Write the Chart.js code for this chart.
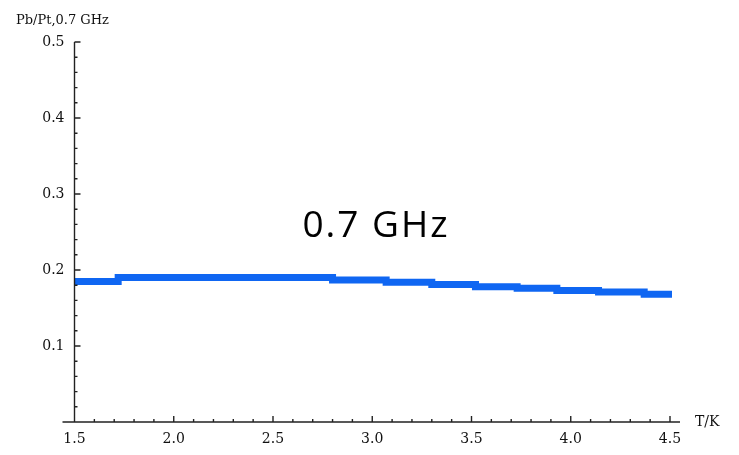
<!DOCTYPE html>
<html>
<head>
<meta charset="utf-8">
<script src="https://cdn.jsdelivr.net/npm/chart.js@4"></script>
<style>
  html, body { margin: 0; padding: 0; background: #fff; }
  #wrap { width: 739px; height: 455px; position: relative; }
</style>
</head>
<body>
<div id="wrap"><canvas id="c" width="739" height="455"></canvas></div>
<script>
// step points: temperature (K) where each level starts, and the ratio
const temps  = [1.50, 1.72, 2.80, 3.07, 3.30, 3.52, 3.73, 3.93, 4.14, 4.37, 4.51];
const ratio  = [0.185, 0.190, 0.187, 0.184, 0.181, 0.178, 0.176, 0.173, 0.171, 0.168, 0.168];
const xRange = [1.5, 4.5];
const yRange = [0, 0.5];
const yTitle = 'Pb/Pt,0.7 GHz';
const xTitle = 'T/K';
const note   = '0.7 GHz';

const axisFont = { family: 'DejaVu Serif', size: 14 };
const ink = '#222';

const isMajor = (v, step) => Math.abs(v / step - Math.round(v / step)) < 1e-6;

// axis lines + inward tick marks (major / minor) + free texts
const decor = {
    id: 'decor',
    afterDraw(chart) {
        const { ctx, chartArea: a, scales: { x, y } } = chart;
        ctx.save();
        ctx.strokeStyle = ink;
        ctx.lineWidth = 1.4;
        ctx.beginPath();
        ctx.moveTo(a.left - 12, a.bottom); ctx.lineTo(a.right + 10, a.bottom);
        ctx.moveTo(a.left, a.bottom); ctx.lineTo(a.left, a.top);
        x.ticks.forEach(t => {
            const px = x.getPixelForValue(t.value);
            const len = isMajor(t.value, 0.5) ? 6 : 3;
            ctx.moveTo(px, a.bottom); ctx.lineTo(px, a.bottom - len);
        });
        y.ticks.forEach(t => {
            if (t.value <= 0) return;
            const py = y.getPixelForValue(t.value);
            const len = isMajor(t.value, 0.1) ? 6 : 3;
            ctx.moveTo(a.left, py); ctx.lineTo(a.left + len, py);
        });
        ctx.stroke();

        ctx.fillStyle = '#111';
        ctx.font = '13px "DejaVu Serif"';
        ctx.textAlign = 'left';
        ctx.textBaseline = 'alphabetic';
        ctx.fillText(yTitle, 16, 24);
        ctx.font = '14px "DejaVu Serif"';
        ctx.fillText(xTitle, 695, 426);

        ctx.font = '37px "Open Sans"';
        ctx.letterSpacing = '2px';
        ctx.textAlign = 'center';
        ctx.fillStyle = '#000';
        ctx.fillText(note, 376, 237);
        ctx.restore();
    }
};

new Chart(document.getElementById('c'), {
    type: 'line',
    data: {
        datasets: [{
            data: temps.map((t, i) => ({ x: t, y: ratio[i] })),
            borderColor: '#0f66f2',
            borderWidth: 7,
            borderCapStyle: 'butt',
            stepped: 'before',
            pointRadius: 0,
            fill: false,
            clip: false
        }]
    },
    options: {
        responsive: false,
        animation: false,
        layout: { padding: { left: 0, right: 69, top: 42, bottom: 0 } },
        plugins: { legend: { display: false }, tooltip: { enabled: false } },
        scales: {
            x: {
                type: 'linear',
                min: xRange[0], max: xRange[1],
                grid: { display: false, drawTicks: false },
                border: { display: false },
                afterFit: s => { s.height = 33; },
                ticks: {
                    stepSize: 0.1, autoSkip: false, maxRotation: 0,
                    padding: 9, color: '#111', font: axisFont,
                    callback: v => isMajor(v, 0.5) ? v.toFixed(1) : ''
                }
            },
            y: {
                min: yRange[0], max: yRange[1],
                grid: { display: false, drawTicks: false },
                border: { display: false },
                afterFit: s => { s.width = 74.5; },
                ticks: {
                    stepSize: 0.02, autoSkip: false,
                    padding: 10, color: '#111', font: axisFont,
                    callback: v => (v > 0 && isMajor(v, 0.1)) ? v.toFixed(1) : ''
                }
            }
        }
    },
    plugins: [decor]
});
</script>
</body>
</html>
